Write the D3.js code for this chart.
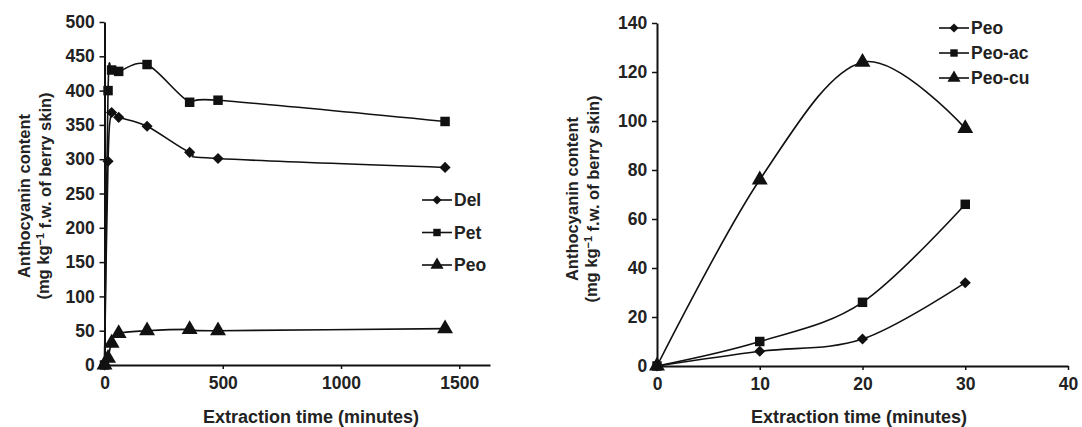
<!DOCTYPE html>
<html>
<head>
<meta charset="utf-8">
<script src="https://cdn.jsdelivr.net/npm/d3@7"></script>
<style>
  body { margin: 0; background: #fff; }
  svg text { font-family: "Liberation Sans", Arial, sans-serif; font-weight: bold; fill: #222; }
</style>
</head>
<body>
<svg id="chart" width="1082" height="427"></svg>
<script>
// left panel: time course over 24 h
const leftTimes = [0, 15, 30, 60, 180, 360, 480, 1440];
const delValues = [0, 297, 368, 361, 348, 310, 301, 288];
const petValues = [0, 400, 430, 428, 438, 383, 386, 355];
const peoValues = [0, 10, 32, 46, 50, 52, 50, 53];
const leftXTicks = [0, 500, 1000, 1500];
const leftYTicks = [0, 50, 100, 150, 200, 250, 300, 350, 400, 450, 500];

// right panel: first 30 minutes
const rightTimes = [0, 10, 20, 30];
const peoShort = [0, 6, 11, 34];
const peoAcValues = [0, 10, 26, 66];
const peoCuValues = [0, 76, 124, 97];
const rightXTicks = [0, 10, 20, 30, 40];
const rightYTicks = [0, 20, 40, 60, 80, 100, 120, 140];

const svg = d3.select('#chart');

function markerPath(type, size) {
    if (type == 'triangle') {
        return d3.symbol().type(d3.symbolTriangle).size(size)();
    }
    // diamond is a square turned 45 degrees at draw time
    return d3.symbol().type(d3.symbolSquare).size(size)();
}

function drawPanel(cfg) {
    const g = svg.append('g');
    const x = d3.scaleLinear().domain(cfg.xDomain).range(cfg.xRange);
    const y = d3.scaleLinear().domain(cfg.yDomain).range(cfg.yRange);

    // axes
    const xAxis = g.append('g')
        .attr('transform', 'translate(0,' + cfg.yRange[0] + ')')
        .call(d3.axisBottom(x).tickValues(cfg.xTicks).tickFormat(d3.format('d')).tickSize(4).tickSizeOuter(0));
    const yAxis = g.append('g')
        .attr('transform', 'translate(' + cfg.xRange[0] + ',0)')
        .call(d3.axisLeft(y).tickValues(cfg.yTicks).tickFormat(d3.format('d')).tickSize(5).tickSizeOuter(0));
    [xAxis, yAxis].forEach(function(a) {
        a.select('.domain').attr('stroke', '#111').attr('stroke-width', 2);
        a.selectAll('.tick line').attr('stroke', '#111').attr('stroke-width', 1.5);
        a.selectAll('.tick text').style('font-size', '17.5px');
    });
    xAxis.selectAll('.tick text').attr('dy', '0.95em');
    yAxis.selectAll('.tick text').attr('dx', '-0.1em');

    const line = d3.line()
        .x(function(d) { return x(d[0]); })
        .y(function(d) { return y(d[1]); })
        .curve(d3.curveCatmullRom.alpha(0));

    cfg.series.forEach(function(s) {
        const pts = cfg.times.map(function(t, i) { return [t, s.values[i]]; });
        g.append('path')
            .datum(pts)
            .attr('fill', 'none')
            .attr('stroke', '#111')
            .attr('stroke-width', 1.6)
            .attr('d', line);
        g.selectAll(null)
            .data(pts)
            .enter().append('path')
            .attr('fill', '#111')
            .attr('d', markerPath(s.marker, s.marker == 'triangle' ? 110 : (s.marker == 'square' ? 90 : 62)))
            .attr('transform', function(d) {
                return 'translate(' + x(d[0]) + ',' + y(d[1]) + ')' + (s.marker == 'diamond' ? ' rotate(45)' : '');
            });
    });

    // legend
    cfg.series.forEach(function(s, i) {
        const ly = cfg.legendY + i * cfg.legendStep;
        const lg = g.append('g').attr('transform', 'translate(' + cfg.legendX + ',' + ly + ')');
        lg.append('line')
            .attr('x1', 0).attr('x2', 30)
            .attr('stroke', '#111').attr('stroke-width', 1.6);
        lg.append('path')
            .attr('fill', '#111')
            .attr('d', markerPath(s.marker, s.marker == 'triangle' ? 75 : (s.marker == 'square' ? 55 : 42)))
            .attr('transform', 'translate(15,0)' + (s.marker == 'diamond' ? ' rotate(45)' : ''));
        lg.append('text')
            .attr('x', 32).attr('dy', '0.36em')
            .style('font-size', '17.5px')
            .text(s.name);
    });

    // x title
    g.append('text')
        .attr('x', cfg.xTitleX).attr('y', 423)
        .attr('text-anchor', 'middle')
        .style('font-size', '18px')
        .text('Extraction time (minutes)');

    // y title, two lines
    const yt = g.append('text')
        .attr('transform', 'translate(' + cfg.yTitleX + ',' + cfg.yTitleY + ') rotate(-90)')
        .attr('text-anchor', 'middle')
        .style('font-size', '16.5px');
    yt.append('tspan').attr('x', 0).attr('dy', 0).text('Anthocyanin content');
    const l2 = yt.append('tspan').attr('x', 0).attr('dy', '1.15em');
    l2.append('tspan').text('(mg kg');
    l2.append('tspan').attr('dy', '-0.45em').style('font-size', '11px').text('\u22121');
    l2.append('tspan').attr('dy', '0.45em').text(' f.w. of berry skin)');
}

drawPanel({
    xDomain: [0, 1630], xRange: [104.5, 490],
    yDomain: [0, 500], yRange: [365, 22],
    xTicks: leftXTicks, yTicks: leftYTicks,
    times: leftTimes,
    series: [
        { name: 'Del', values: delValues, marker: 'diamond' },
        { name: 'Pet', values: petValues, marker: 'square' },
        { name: 'Peo', values: peoValues, marker: 'triangle' }
    ],
    legendX: 422, legendY: 200, legendStep: 32.5,
    xTitleX: 311, yTitleX: 30, yTitleY: 196
});

drawPanel({
    xDomain: [0, 40], xRange: [657, 1068],
    yDomain: [0, 140], yRange: [366, 23],
    xTicks: rightXTicks, yTicks: rightYTicks,
    times: rightTimes,
    series: [
        { name: 'Peo', values: peoShort, marker: 'diamond' },
        { name: 'Peo-ac', values: peoAcValues, marker: 'square' },
        { name: 'Peo-cu', values: peoCuValues, marker: 'triangle' }
    ],
    legendX: 939, legendY: 28, legendStep: 25,
    xTitleX: 859, yTitleX: 578, yTitleY: 199
});
</script>
</body>
</html>
